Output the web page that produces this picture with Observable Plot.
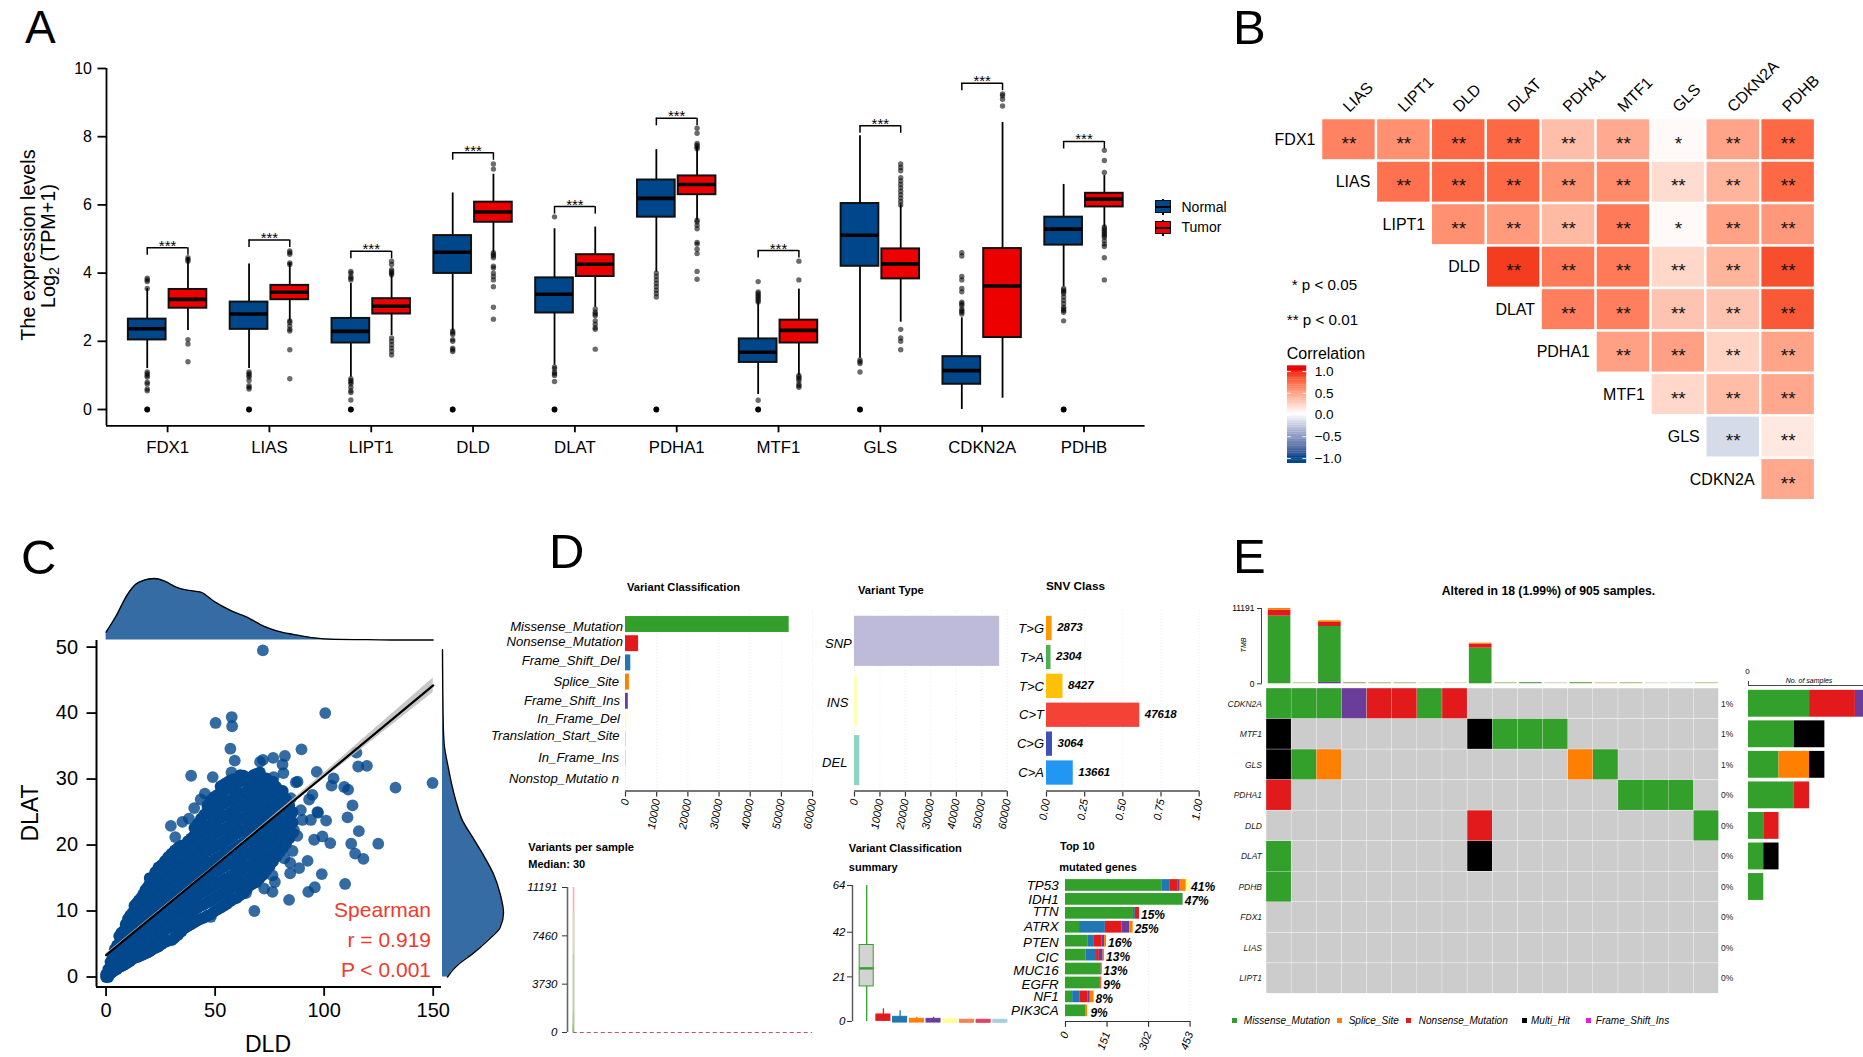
<!DOCTYPE html>
<html>
<head>
<meta charset="utf-8">
<script src="https://cdn.jsdelivr.net/npm/d3@7"></script>
<script src="https://cdn.jsdelivr.net/npm/@observablehq/plot@0.6"></script>
<style>
html,body{margin:0;padding:0;background:#fff;}
#root{position:relative;width:1863px;height:1057px;overflow:hidden;background:#fff;font-family:"Liberation Sans",Arial,sans-serif;color:#000;}
#root svg{position:absolute;overflow:visible;background:transparent;}
.t{position:absolute;white-space:nowrap;line-height:1;}
.t sub{font-size:.72em;vertical-align:-0.28em;line-height:0;}
.b{position:absolute;box-sizing:border-box;}
</style>
</head>
<body>
<div id="root"></div>
<script>
/* ---------- Panel A values ---------- */
const genes = ["FDX1","LIAS","LIPT1","DLD","DLAT","PDHA1","MTF1","GLS","CDKN2A","PDHB"];
// low whisker, q1, median, q3, high whisker
const normalBox = [[1.2,2.04,2.37,2.65,3.55],[1.2,2.35,2.8,3.15,4.27],[0.95,1.95,2.29,2.67,3.7],[2.3,3.99,4.61,5.1,6.35],[1.3,2.83,3.38,3.86,5.3],[4.03,5.64,6.19,6.73,7.62],[0.44,1.38,1.68,2.07,3.15],[1.5,4.2,5.11,6.04,8.03],[0,0.74,1.14,1.55,2.69],[3.6,4.82,5.29,5.64,6.6]];
const tumorBox = [[2.32,2.97,3.23,3.52,4.45],[2.6,3.22,3.44,3.64,4.3],[2.17,2.8,3.03,3.25,3.98],[4.6,5.49,5.79,6.08,6.9],[3,3.9,4.26,4.54,5.35],[5.55,6.3,6.6,6.85,7.7],[1,1.95,2.32,2.62,3.53],[2.56,3.83,4.27,4.71,6],[0.33,2.11,3.62,4.72,8.42],[5.35,5.94,6.17,6.34,6.86]];
const normalOut = [
 [3.85,3.8,3.75,3.55,1.1,1.05,1,0.95,0.8,0.75,0.6,0.55,0],
 [1.1,1.05,1,0.95,0.85,0.7,0.65,0.6,0],
 [4.05,4,3.9,3.85,3.8,0.9,0.85,0.8,0.75,0.65,0.55,0.5,0.28,0],
 [2.3,2.25,2.2,2.05,2,1.8,1.75,1.7,0],
 [5.65,1.25,1.2,1.1,1.05,1,0.82,0],
 [4,3.9,3.8,3.7,3.6,3.5,3.4,3.3,0],
 [3.75,3.45,3.4,3.35,3.3,3.25,3.2,3.15,0.27,0],
 [1.45,1.4,1.35,1.1,0],
 [4.6,4.5,3.9,3.8,3.55,3.45,3.15,3.1,3.05,2.95,2.9,2.85,2.8],
 [3.55,3.5,3.45,3.4,3.3,3.2,3.1,3,2.95,2.9,2.85,2.6,0]];
const tumorOut = [
 [4.45,4.4,4.35,2.05,1.92,1.4],
 [4.65,4.6,4.55,4.3,4.25,2.6,2.55,2.45,2.35,2.3,1.75,0.9],
 [4.35,4.25,4.1,4.05,4,3.95,2.1,2,1.9,1.8,1.7,1.6],
 [7.2,7.05,4.6,4.55,4.5,4.45,4.2,4.15,4,3.9,3.8,3.6,3,2.65],
 [2.95,2.85,2.8,2.75,2.6,2.5,2.4,2.35,1.77],
 [8.25,8.1,7.8,7.75,7.7,7.65,5.55,5.5,5.4,5.3,4.9,4.85,4.7,4.57,4.05,3.82],
 [4.35,3.8,1,0.95,0.9,0.85,0.75,0.7,0.65],
 [7.2,7.1,7,6.8,6.7,6.6,6.5,6.4,6.3,6.2,6.1,6,2.35,2.1,2,1.75],
 [9.25,9.2,9.1,8.9],
 [7.6,7.3,6.95,5.35,5.3,5.25,5.2,5.15,5.1,5.05,4.95,4.85,4.78,4.45,3.8]];
const bracketTop = [4.74,4.97,4.64,7.53,5.95,8.54,4.66,8.32,9.57,7.86];

/* ---------- Panel B values ---------- */
const corrRows = ["FDX1","LIAS","LIPT1","DLD","DLAT","PDHA1","MTF1","GLS","CDKN2A"];
const corrCols = ["LIAS","LIPT1","DLD","DLAT","PDHA1","MTF1","GLS","CDKN2A","PDHB"];
const corrValues = [
 [.62,.56,.74,.74,.33,.43,.03,.46,.74],
 [.7,.74,.74,.54,.58,.18,.38,.74],
 [.56,.51,.35,.66,.03,.47,.52],
 [.9,.66,.66,.2,.38,.84],
 [.64,.64,.3,.3,.8],
 [.48,.48,.22,.46],
 [.2,.34,.44],
 [-.18,.12],
 [.44]];
const corrStars = [
 ["**","**","**","**","**","**","*","**","**"],
 ["**","**","**","**","**","**","**","**"],
 ["**","**","**","**","*","**","**"],
 ["**","**","**","**","**","**"],
 ["**","**","**","**","**"],
 ["**","**","**","**"],
 ["**","**","**"],
 ["**","**"],
 ["**"]];

/* ---------- Panel C values ---------- */
const scatterColumns = [
 [0,[0,0.4]],[1,[0,0.6,1.2]],[3,[0.8,1.8,3]],[5,[1.2,2.4,3.6,4.8]],[7,[1.6,2.9,4.3,5.6,6.7]],
 [9,[2,3.3,4.6,6,7.4,8]],[11,[2.4,3.9,5.2,6.6,8,9.3]],[13,[2.9,4.2,5.7,7.1,8.5,9.9,10.8]],
 [15,[3.1,4.7,6.2,7.6,9.2,10.6,11.6]],[17,[3.4,5,6.7,8.2,9.8,11.3,12.5]],[19,[3.7,5.4,7.1,8.9,10.5,12.1,13.6]],
 [21,[4.1,5.8,7.6,9.3,11,12.8,14.6]],[24,[4.6,6.5,8.3,10.2,12,13.8,15.5,16.6]],[27,[5.3,7.1,9,10.9,12.7,14.6,16.4,17.6]],
 [30,[5.6,7.7,9.6,11.5,13.4,15.3,17.1,18.7]],[33,[6.4,8.3,10.2,12.1,14,15.9,17.8,19.6]],[36,[7.4,9.2,11,13,14.9,16.7,18.6,20]],
 [39,[8,9.9,11.8,13.7,15.6,17.5,19.4,21]],[42,[8.6,10.5,12.4,14.3,16.2,18.1,20,22,23.2]],[45,[9,11,13,15,16.9,18.8,20.7,22.6,24.6]],
 [48,[9.5,11.6,13.6,15.5,17.4,19.4,21.3,23.2,25.1,26.8]],[51,[10.2,12.2,14.2,16.1,18,20,21.9,23.8,25.7,27.6]],
 [54,[10.8,12.8,14.7,16.7,18.6,20.5,22.4,24.4,26.3,28.2,29.2]],[57,[11.5,13.4,15.3,17.2,19.1,21.1,23,24.9,26.8,28.7,29.8]],
 [60,[12,14,15.9,17.8,19.7,21.7,23.6,25.5,27.4,29.3]],[63,[12.7,14.6,16.5,18.4,20.3,22.2,24.1,26,27.9,29.8,30.5]],
 [66,[13.9,15.1,17,18.9,20.9,22.8,24.7,26.6,28.5,30.1]],[69,[14.4,16,17.8,19.6,21.5,23.4,25.3,27.2,29.1,30.8]],
 [72,[15.5,17.2,18.9,20.6,22.3,24.2,26.1,28,29.9]],[75,[16.8,18.4,20,21.8,23.6,25.5,27.3,29.1]],
 [78,[18.2,20.1,21.9,23.7,25.6,27.4,28.8]],[81,[19.5,21.3,23,24.8,26.6,28.2]],[84,[21,22.6,24.3,26]],
 [2,[0.5,1.4,2.3]],[4,[1,2,3.1,4.2]],[6,[1.5,2.7,3.9,5.1,6.2]],[8,[1.8,3.1,4.4,5.7,7]],[10,[2.2,3.6,5,6.4,7.8,8.8]],
 [12,[2.7,4,5.5,6.9,8.3,9.7]],[14,[3,4.5,6,7.4,8.9,10.4,11.2]],[16,[3.3,4.9,6.5,8,9.6,11.1,12]],[18,[3.6,5.2,6.9,8.6,10.2,11.8,13.2]],
 [20,[3.9,5.6,7.4,9.1,10.8,12.5,14.2,15]],[22.5,[4.4,6.2,8,9.8,11.5,13.3,15,15.9]],[25.5,[5,6.8,8.7,10.5,12.4,14.2,16,17]],
 [28.5,[5.5,7.4,9.3,11.2,13.1,15,16.8,18.2]],[31.5,[6,8,9.9,11.8,13.7,15.6,17.5,19.2]],[34.5,[6.9,8.8,10.6,12.5,14.4,16.3,18.2,19.9]],
 [37.5,[7.7,9.6,11.4,13.3,15.2,17.1,19,20.6]],[40.5,[8.3,10.2,12.1,14,15.9,17.8,19.7,21.5,22.6]],[43.5,[8.8,10.8,12.7,14.6,16.5,18.4,20.4,22.3,24]],
 [46.5,[9.3,11.3,13.3,15.2,17.2,19.1,21,22.9,24.8,26]],[49.5,[9.9,11.9,13.9,15.8,17.7,19.7,21.6,23.5,25.4,27.3]],
 [52.5,[10.5,12.5,14.4,16.4,18.3,20.2,22.2,24.1,26,27.9,28.9]],[55.5,[11.1,13.1,15,17,18.9,20.8,22.7,24.6,26.6,28.5,29.5]],
 [58.5,[11.8,13.7,15.6,17.5,19.4,21.4,23.3,25.2,27.1,29,30]],[61.5,[12.4,14.3,16.2,18.1,20,22,23.9,25.8,27.7,29.6,30.6]],
 [64.5,[13.3,14.9,16.8,18.7,20.6,22.5,24.4,26.3,28.2,30.2]],[67.5,[14.2,15.6,17.4,19.3,21.2,23.1,25,26.9,28.8,30.6]],
 [70.5,[15,16.6,18.3,20.1,21.9,23.8,25.7,27.6,29.5,31]],[73.5,[16.2,17.8,19.5,21.2,23,24.9,26.7,28.5,30.1]],
 [76.5,[17.5,19.2,21,22.8,24.6,26.4,28.2,29.6]],[79.5,[18.9,20.7,22.5,24.3,26.1,27.8]],[82.5,[20.2,22,23.7,25.4,27]],[85.5,[21.8,23.4,25]]];
const scatterSparse = [[71.9,49.5],[57.6,39.4],[50.2,38.5],[57.8,38],[100.5,40],[57,34.6],[59,32.8],[89.6,34.5],[114.8,34],[115.6,31.9],[119.6,32],[96.6,31.1],[104.3,30.1],[103.4,29],[109.2,28.8],[111,28.4],[132.7,28.7],[149.7,29.4],[113,26],[110.7,24.2],[115.9,22.1],[124.8,20.2],[112.4,20.2],[102.8,20.3],[99.2,21.3],[95.4,20.8],[100.9,23.7],[96.9,25],[114.2,18.7],[118,17.9],[92.4,17.6],[98.9,15.6],[88.5,16.5],[109.6,14.1],[95.7,13.6],[92.7,12.9],[83.9,11.7],[68,10],[39,30.5],[48.9,30.3],[29.7,22.9],[31.7,21.2],[35,23.5],[38,24],[40.4,25.6],[43.4,26.9],[45.3,27.8],[46.5,25.6],[57.5,31],[70.6,32.6],[71.9,32.9],[76.6,33.2],[82,33.5],[80.9,32.2],[81.3,30.9],[76.8,30.3],[87.8,29.6],[87,29.5],[94.6,27.6],[93.1,26.9],[84.7,27.1],[89.3,25.3],[97.2,24.9],[90,23.8],[93.9,23.8],[86.2,22.2],[87.7,21.4],[84.7,24],[85.5,19.1],[81.7,18],[84.4,17.3],[84.4,15.7],[77.4,14.4],[76.3,15.4],[72.5,13.4],[76.3,12.9],[64.1,12.7],[48,9.1],[38,7.9],[30.9,5.8],[25.8,5.9]];
const fitX = [0,50,100,150];
const fitY = [3.3,16.9,30.5,44.2];
const fitHalf = [0.25,0.15,0.45,1.1];
const densTopX = [0,4.4,9.8,13.6,17.4,22,26.6,32.7,38.1,43.4,49.5,57.2,64.8,72.5,78.6,86.2,95.4,104.6,119.9,135.2,150];
const densTopD = [.128,.378,.739,.906,.972,1,.961,.85,.806,.778,.628,.478,.367,.222,.144,.089,.033,.011,.006,0,0];
const densRightY = [49.6,38.9,35.3,31.8,29.3,26.7,23.7,21.2,18.7,15.6,12.6,9.7,7.5,5.5,3.5,2,1,0];
const densRightD = [0,.011,.027,.093,.148,.219,.328,.492,.656,.836,.945,1,.945,.738,.492,.273,.164,.082];

/* ---------- Panel D values ---------- */
const classNames = ["Missense_Mutation","Nonsense_Mutation","Frame_Shift_Del","Splice_Site","Frame_Shift_Ins","In_Frame_Del","Translation_Start_Site","In_Frame_Ins","Nonstop_Mutatio n"];
const classCounts = [52500,4200,1700,1250,900,450,150,80,30];
const classColors = ["#33A02C","#E31A1C","#1F78B4","#FF7F00","#6A3D9A","#FFFF99","#FB9A99","#E0415F","#A6CEE3"];
const typeNames = ["SNP","INS","DEL"];
const typeCounts = [57000,1200,2100];
const typeColors = ["#BEBADA","#FFFFB3","#8DD3C7"];
const snvNames = ["T>G","T>A","T>C","C>T","C>G","C>A"];
const snvCounts = [2873,2304,8427,47618,3064,13661];
const snvColors = ["#FF9800","#4CAF50","#FFC107","#F44336","#3F51B5","#2196F3"];
const spikeEnd = [6,6,5,4,3,2];
const spikeValue = [11191,9200,6000,1500,600,250];
const spikeColor = ["#f7b0ac","#bfe8b9","#a8dca4","#94d490","#7cc878","#5cb658"];
// low whisker, q1, median, q3, high whisker per classification
const summaryBox = [[0,17,25,36,64],[0,0.8,2,3.3,6],[0,0,1,2.2,5],[0,0,0.5,1.25,2],[0,0,0.5,1.25,2],[0,0,0,1,2],[0,0,0,0.8,0.8],[0,0,0,0.8,0.8],[0,0,0,0.8,0.8]];
const summaryColors = ["#33A02C","#E31A1C","#1F78B4","#FF7F00","#6A3D9A","#FFFF99","#FF7F50","#E0415F","#A6CEE3"];
const top10Genes = ["TP53","IDH1","TTN","ATRX","PTEN","CIC","MUC16","EGFR","NF1","PIK3CA"];
const top10Pct = ["41%","47%","15%","25%","16%","13%","13%","9%","8%","9%"];
const topMissense = [350,427,247,51,81,74,130,125,26,75];
const topFsDel = [29,1,7,94,24,39,0,0,26,0];
const topNonsense = [31,0,15,60,27,10,3,5,29,0];
const topFsIns = [7,0,0,29,10,14,0,0,9,0];
const topSplice = [22,0,0,12,7,5,0,2,14,5];
const topInFrame = [12,0,0,0,0,0,0,0,0,5];

/* ---------- Panel E values ---------- */
const oncoGenes = ["CDKN2A","MTF1","GLS","PDHA1","DLD","DLAT","PDHB","FDX1","LIAS","LIPT1"];
const oncoPct = ["1%","1%","1%","0%","0%","0%","0%","0%","0%","0%"];
const oncoRows = [
 "MMMFNNMN..........",
 "H.......HMMM......",
 "HMS.........SM....",
 "N.............MMM.",
 "........N........M",
 "M.......H.........",
 "M.................",
 "..................",
 "..................",
 ".................."];
const oncoColor = {M:"#33A02C",N:"#E31A1C",S:"#FF7F00",H:"#000000",F:"#6A3D9A"};
const tmbMissense = [10052,0,8317,0,0,0,0,0,5298,0,0,0,0,0,0,0,0,0];
const tmbNonsense = [891,0,594,0,0,0,0,0,594,0,0,0,0,0,0,0,0,0];
const tmbSplice = [248,0,248,0,0,0,0,0,150,0,0,0,0,0,0,0,0,0];
const tmbFrameIns = [0,0,200,0,0,0,0,0,0,0,0,0,0,0,0,0,0,0];
const tmbLow = [0,200,0,200,200,200,180,180,0,200,200,180,200,180,200,180,180,200];
const tmbLowColor = ["","#c9d2ad","","#b9a98c","#c2c2a0","#cfc09f","#dfe5cf","#dde2cc","","#b5cc9e","#6f9e6f","#cfdabb","#7fae5a","#d8cba8","#bcc290","#dde2cc","#d6e8d6","#c5cf9e"];
const rightMissense = [4,3,2,3,1,1,1,0,0,0];
const rightNonsense = [3,0,0,1,1,0,0,0,0,0];
const rightSplice = [0,0,2,0,0,0,0,0,0,0];
const rightMulti = [0,2,1,0,0,1,0,0,0,0];
const rightFrameIns = [1,0,0,0,0,0,0,0,0,0];

/* ---------- Layout helpers ---------- */
const root = document.getElementById("root");
const FONT = '"Liberation Sans",Arial,sans-serif';
function chart(x0,y0,x1,y1,opts,m){
  m = Object.assign({l:60,r:60,t:20,b:60},m||{});
  const o = Object.assign({},opts);
  o.x = Object.assign({},o.x||{}); o.y = Object.assign({},o.y||{});
  if (o.xAbs){ o.x.range = o.xAbs.map(v=>v-x0+m.l); delete o.xAbs; }
  if (o.yAbs){ o.y.range = o.yAbs.map(v=>v-y0+m.t); delete o.yAbs; }
  const p = Plot.plot(Object.assign({
    width:x1-x0+m.l+m.r, height:y1-y0+m.t+m.b,
    marginLeft:m.l,marginRight:m.r,marginTop:m.t,marginBottom:m.b,
    style:{fontFamily:FONT,background:"transparent",overflow:"visible",color:"#000"}
  },o));
  p.style.left=(x0-m.l)+"px"; p.style.top=(y0-m.t)+"px";
  root.appendChild(p);
  return p;
}
function txt(s,x,y,o){
  o=o||{};
  const d=document.createElement("div"); d.className="t"; d.innerHTML=s;
  const ax={start:"0",middle:"-50%",end:"-100%"}[o.anchor||"start"];
  d.style.left=x+"px"; d.style.top=y+"px";
  d.style.fontSize=(o.size||14)+"px";
  if(o.bold)d.style.fontWeight="bold";
  if(o.italic)d.style.fontStyle="italic";
  if(o.color)d.style.color=o.color;
  d.style.transform=`translate(${ax},-50%)`+(o.rotate?` rotate(${o.rotate}deg)`:"");
  root.appendChild(d); return d;
}
function box(x,y,w,h,c,extra){
  const d=document.createElement("div"); d.className="b";
  d.style.cssText=`left:${x}px;top:${y}px;width:${w}px;height:${h}px;background:${c};`+(extra||"");
  root.appendChild(d); return d;
}

/* ---------- Panel letters ---------- */
txt("A",25,27,{size:46}); txt("B",1233,27,{size:49}); txt("C",21,557,{size:49}); txt("D",549,551,{size:49}); txt("E",1233,556,{size:49});

/* ---------- Panel A ---------- */
const BW=.185;
const boxTable=(arr,off)=>arr.map((b,i)=>({x:i+off,lo:b[0],q1:b[1],med:b[2],q3:b[3],hi:b[4]}));
const aN=boxTable(normalBox,-.2), aT=boxTable(tumorBox,.2);
const outTable=(arr,off)=>arr.flatMap((vs,i)=>vs.map(v=>({x:i+off,y:v})));
const aOut=[...outTable(normalOut,-.2),...outTable(tumorOut,.2)];
const boxMarks=(tbl,col)=>[
  Plot.ruleX(tbl,{x:"x",y1:"lo",y2:"hi",stroke:"#000",strokeWidth:1.8}),
  Plot.rect(tbl,{x1:d=>d.x-BW,x2:d=>d.x+BW,y1:"q1",y2:"q3",fill:col,stroke:"#111",strokeWidth:2}),
  Plot.ruleY(tbl,{y:"med",x1:d=>d.x-BW,x2:d=>d.x+BW,stroke:"#000",strokeWidth:3.6})
];
chart(106.4,68,1145,425.3,{
  x:{domain:[-.6,9.6]}, y:{domain:[-.478,10]},
  marks:[
    Plot.dot(aOut,{x:"x",y:"y",r:2.7,fill:"#000",fillOpacity:.58}),
    Plot.dot(aOut.filter(d=>d.y===0),{x:"x",y:"y",r:2.9,fill:"#000"}),
    ...boxMarks(aN,"#00468B"),...boxMarks(aT,"#ED0000"),
    Plot.ruleY(bracketTop,{y:d=>d,x1:(d,i)=>i-.2,x2:(d,i)=>i+.2,strokeWidth:1.5}),
    Plot.ruleX(bracketTop,{x:(d,i)=>i-.2,y1:d=>d,y2:d=>d-.22,strokeWidth:1.5}),
    Plot.ruleX(bracketTop,{x:(d,i)=>i+.2,y1:d=>d,y2:d=>d-.22,strokeWidth:1.5}),
    Plot.text(bracketTop,{x:(d,i)=>i,y:d=>d,text:()=>"***",fontSize:15,lineAnchor:"bottom",dy:3}),
    Plot.ruleX([-.6],{y1:-.478,y2:10,strokeWidth:1.8}),
    Plot.ruleY([-.478],{x1:-.6,x2:9.6,strokeWidth:1.8}),
    Plot.axisY({ticks:[0,2,4,6,8,10],tickSize:8.5,tickPadding:6,fontSize:16,label:null,strokeWidth:1.8}),
    Plot.axisX({ticks:d3.range(10),tickFormat:i=>genes[i],tickSize:7,tickPadding:8,fontSize:16.8,label:null,strokeWidth:1.8})
  ]
});
txt("The expression levels",29,245,{size:19.8,anchor:"middle",rotate:-90});
txt("Log<sub>2</sub> (TPM+1)",49,246,{size:19.8,anchor:"middle",rotate:-90});
[["Normal","#00468B",200,207],["Tumor","#ED0000",221,227]].forEach(([n,c,y,ty])=>{
  box(1162,y-1.5,1.6,16,"#000");
  box(1154.6,y,16.4,13,c,"border:1.6px solid #111;");
  box(1154.6,y+5.5,16.4,2,"#000");
  txt(n,1181.5,ty,{size:14});
});

/* ---------- Panel B ---------- */
const corrTable = corrValues.flatMap((r,i)=>r.map((v,j)=>({row:corrRows[i],col:corrCols[i+j],r:v,s:corrStars[i][j]})));
const corrColor = {type:"linear",domain:[-1,0,1],range:["#00468B","#ffffff","#ED0000"],interpolate:"lab",clamp:true};
chart(1321.35,118.25,1815.45,500.55,{
  x:{type:"band",domain:corrCols,paddingInner:.045,paddingOuter:.0225,round:false},
  y:{type:"band",domain:corrRows,axis:null,paddingInner:.06,paddingOuter:.03,round:false},
  color:corrColor,
  marks:[
    Plot.cell(corrTable,{x:"col",y:"row",fill:"r"}),
    Plot.text(corrTable,{x:"col",y:"row",text:"s",fontSize:19,dy:4,fill:"#111"}),
    Plot.text(corrRows,{x:(d,i)=>corrCols[i],y:d=>d,text:d=>d,textAnchor:"end",dx:-33.5,fontSize:16}),
    Plot.axisX({anchor:"top",tickRotate:-45,tickSize:0,tickPadding:9,dx:-3,fontSize:16,label:null})
  ]
});
txt("* p &lt; 0.05",1291.7,285,{size:15.2});
txt("** p &lt; 0.01",1286.8,320,{size:15.2});
txt("Correlation",1286.8,354,{size:16});
chart(1286.8,366,1306,463,{
  x:{domain:[0,1],axis:null}, y:{domain:[-1.115,1.115]}, color:corrColor,
  marks:[
    Plot.rect(d3.range(-1.115,1.115,.04),{x1:0,x2:1,y1:d=>d,y2:d=>d+.045,fill:d=>d}),
    Plot.ruleY([-1,-.5,0,.5,1],{x1:0,x2:.2,stroke:"#fff",strokeWidth:.9}),
    Plot.ruleY([-1,-.5,0,.5,1],{x1:.8,x2:1,stroke:"#fff",strokeWidth:.9}),
    Plot.axisY({anchor:"right",ticks:[-1,-.5,0,.5,1],tickFormat:d3.format(".1f"),tickSize:0,tickPadding:8,fontSize:13.6,label:null})
  ]
},{l:10});

/* ---------- Panel C ---------- */
const scatterDense=scatterColumns.flatMap(([x,ys])=>ys.map(y=>({x,y})));
const scatterLoose=scatterSparse.map(([x,y])=>({x,y}));
const fit=fitX.map((x,i)=>({x,y:fitY[i],lo:fitY[i]-fitHalf[i],hi:fitY[i]+fitHalf[i]}));
const blue="#356ca3";
chart(95.7,640,440.7,986.4,{
  x:{domain:[-4.4,153.8]}, y:{domain:[-1.5,51]},
  marks:[
    Plot.dot(scatterLoose,{x:"x",y:"y",r:5.9,fill:"#00468B",fillOpacity:.8}),
    Plot.dot(scatterDense,{x:"x",y:"y",r:5.9,fill:"#03478c"}),
    Plot.areaY(fit,{x:"x",y1:"lo",y2:"hi",fill:"#bdbdbd",fillOpacity:.85}),
    Plot.line(fit,{x:"x",y:"y",stroke:"#000",strokeWidth:2.2}),
    Plot.ruleX([-4.4],{y1:-1.5,y2:51,strokeWidth:2}),
    Plot.ruleY([-1.5],{x1:-4.4,x2:153.8,strokeWidth:2}),
    Plot.axisY({ticks:[0,10,20,30,40,50],tickSize:9.5,tickPadding:9,fontSize:20,label:null,strokeWidth:1.8}),
    Plot.axisX({ticks:[0,50,100,150],tickSize:9.5,tickPadding:6,fontSize:20,label:null,strokeWidth:1.8})
  ]
});
const dTop=densTopX.map((x,i)=>({x,d:densTopD[i]}));
chart(95.7,577.5,440.7,639,{
  x:{domain:[-4.4,153.8],axis:null},y:{domain:[0,1],axis:null},
  marks:[
    Plot.areaY(dTop,{x:"x",y:"d",fill:blue,curve:"monotone-x"}),
    Plot.lineY(dTop,{x:"x",y:"d",stroke:"#000",strokeWidth:1.3,curve:"monotone-x"})
  ]
},{b:10,t:10});
const dRight=densRightY.map((y,i)=>({y,d:densRightD[i]}));
chart(441.7,640,502.7,986.4,{
  y:{domain:[-1.5,51],axis:null},x:{domain:[0,1],axis:null},
  marks:[
    Plot.areaX(dRight,{y:"y",x:"d",fill:blue,curve:"monotone-y"}),
    Plot.lineX(dRight,{y:"y",x:"d",stroke:"#000",strokeWidth:1.4,curve:"monotone-y"})
  ]
},{l:10,r:10});
txt("DLD",268,1044,{size:23,anchor:"middle"});
txt("DLAT",30,813,{size:23,anchor:"middle",rotate:-90});
const red="#ef3a2d";
txt("Spearman",431,909,{size:21,anchor:"end",color:red});
txt("r = 0.919",431,939,{size:21,anchor:"end",color:red});
txt("P &lt; 0.001",431,969,{size:21,anchor:"end",color:red});

/* ---------- Panel D ---------- */
const grid=(ticks)=>Plot.ruleX(ticks,{stroke:"#e9e9e9",strokeDasharray:"1,2",strokeWidth:.8});
const itAxis=(ticks,fmt)=>Plot.axisX({ticks,tickFormat:fmt,tickRotate:-80,tickSize:5.6,tickPadding:2,fontSize:11,fontStyle:"italic",label:null,stroke:"#333",strokeWidth:1.2});
const classTable=classNames.map((n,i)=>({n,v:classCounts[i],c:classColors[i]}));
const k60=[0,10000,20000,30000,40000,50000,60000];
chart(625.4,610,812.5,791,{
  x:{domain:[0,60000]},
  y:{type:"band",domain:classNames,axis:null,paddingInner:.17,paddingOuter:.085,round:false},
  yAbs:[614.4,787.2], color:{type:"identity"},
  marks:[grid(k60),
    Plot.barX(classTable,{x:"v",y:"n",fill:"c"}),
    itAxis(k60,d=>String(d))
  ]
});
box(625.4,790.3,187,1.4,"#777");
const classLabelY=[626.7,641.7,661.3,682.3,700.7,718.7,735.7,758.3,779.3];
const classLabelR=[623,623,620,619,620,620,619.6,619,619];
classNames.forEach((n,i)=>txt(n,classLabelR[i],classLabelY[i],{size:13.1,italic:true,anchor:"end"}));
txt("Variant Classification",626.9,588.3,{size:11.2,bold:true});

const typeTable=typeNames.map((n,i)=>({n,v:typeCounts[i],c:typeColors[i]}));
chart(854.2,610,1007,791,{
  x:{domain:[0,60000]},
  y:{type:"band",domain:typeNames,axis:null,paddingInner:.16,paddingOuter:.08,round:false},
  yAbs:[611,790], color:{type:"identity"},
  marks:[grid(k60),Plot.barX(typeTable,{x:"v",y:"n",fill:"c"}),itAxis(k60,d=>String(d))]
});
box(854.2,790.3,153,1.4,"#777");
const typeLabelY=[643,702.3,762.3], typeLabelR=[851.8,848.4,847.4];
typeNames.forEach((n,i)=>txt(n,typeLabelR[i],typeLabelY[i],{size:13,italic:true,anchor:"end"}));
txt("Variant Type",858,591.3,{size:11.2,bold:true});

const snvSum=d3.sum(snvCounts);
const snvTable=snvNames.map((n,i)=>({n,count:String(snvCounts[i]),v:snvCounts[i]/snvSum,c:snvColors[i]}));
chart(1046.2,610,1198.9,791,{
  x:{domain:[0,1]},
  y:{type:"band",domain:snvNames,paddingInner:.16,paddingOuter:.08,round:false},
  yAbs:[613.6,787], color:{type:"identity"},
  marks:[grid([0,.25,.5,.75,1]),
    Plot.barX(snvTable,{x:"v",y:"n",fill:"c"}),
    Plot.text(snvTable,{x:"v",y:"n",text:"count",dx:5,dy:-1,textAnchor:"start",fontSize:11.5,fontWeight:"bold",fontStyle:"italic"}),
    Plot.axisY({tickSize:0,tickPadding:2.5,fontSize:13,fontStyle:"italic",label:null}),
    itAxis([0,.25,.5,.75,1],d3.format(".2f"))
  ]
});
box(1046.2,790.3,153,1.4,"#777");
txt("SNV Class",1046,587.3,{size:11.8,bold:true});

txt("Variants per sample",528.3,848.3,{size:11.2,bold:true});
txt("Median: 30",528.3,864.3,{size:11,bold:true});
chart(567.3,887.3,812.4,1032.3,{
  x:{domain:[-21.8,905],axis:null}, y:{domain:[0,11191]},
  marks:[
    Plot.rect(spikeValue,{x1:0,x2:(d,i)=>spikeEnd[i],y1:0,y2:d=>d,fill:(d,i)=>spikeColor[i]}),
    Plot.ruleY([0],{x1:0,x2:905,stroke:"#c8506c",strokeWidth:1.2,strokeDasharray:"4,3"}),
    Plot.ruleX([-21.8],{y1:0,y2:11191,stroke:"#666",strokeWidth:1.6}),
    Plot.axisY({ticks:[0,3730,7460,11191],tickFormat:d=>String(d),tickSize:5,tickPadding:5,fontSize:11.5,fontStyle:"italic",label:null,stroke:"#333"})
  ],
  color:{type:"identity"}
});

txt("Variant Classification",848.8,849.3,{size:11.2,bold:true});
txt("summary",848.8,866.7,{size:11,bold:true});
const sumTable=summaryBox.map((b,i)=>({x:i,lo:b[0],q1:b[1],med:b[2],q3:b[3],hi:b[4],c:summaryColors[i],f:i===0?"#d3d3d3":summaryColors[i]}));
chart(852,885,1008.2,1021,{
  x:{domain:[-.85,8.5],axis:null}, y:{domain:[0,64]}, color:{type:"identity"},
  marks:[
    Plot.ruleX(sumTable,{x:"x",y1:"lo",y2:"hi",stroke:"c",strokeWidth:1.3}),
    Plot.rect(sumTable,{x1:d=>d.x-.42,x2:d=>d.x+.42,y1:d=>d.q1-.5,y2:"q3",fill:"f",stroke:"c",strokeWidth:1}),
    Plot.ruleY(sumTable,{y:"med",x1:d=>d.x-.42,x2:d=>d.x+.42,stroke:"c",strokeWidth:2.4}),
    Plot.ruleX([-.85],{y1:0,y2:64,stroke:"#555",strokeWidth:1.4}),
    Plot.axisY({ticks:[0,21,42,64],tickSize:5,tickPadding:2,fontSize:11.5,fontStyle:"italic",label:null,stroke:"#333"})
  ]
});

txt("Top 10",1060,845.7,{size:11,bold:true});
txt("mutated genes",1059.2,867.3,{size:11,bold:true});
const topColors=["#33A02C","#1F78B4","#E31A1C","#6A3D9A","#FF7F00","#FFFF99"];
const topSeries=[topMissense,topFsDel,topNonsense,topFsIns,topSplice,topInFrame];
const topTable=topSeries.flatMap((s,k)=>s.map((v,i)=>({g:top10Genes[i],v,k,c:topColors[k]})));
const topTotals=top10Genes.map((g,i)=>({g,t:d3.sum(topSeries,s=>s[i]),p:top10Pct[i]}));
chart(1065.4,878.2,1190,1021.3,{
  x:{domain:[0,453]},
  y:{type:"band",domain:top10Genes,axis:null,paddingInner:.16,paddingOuter:.08,round:false},
  yAbs:[878.2,1017.5], color:{type:"identity"},
  marks:[
    grid([0,151,302,453]),
    Plot.barX(topTable,{x:"v",y:"g",fill:"c",z:"k"}),
    Plot.text(topTotals,{x:"t",y:"g",text:"p",textAnchor:"start",dx:1.5,dy:2,fontSize:12,fontWeight:"bold",fontStyle:"italic"}),
    Plot.axisX({ticks:[0,151,302,453],tickRotate:-70,tickSize:5.7,tickPadding:5,fontSize:11,fontStyle:"italic",label:null,stroke:"#333",strokeWidth:1.2})
  ]
});
box(1065.4,1020.6,125,1.4,"#333");
const topLabelY=[886,900,912.3,926.7,943.3,958,971,985,996.7,1011.3];
top10Genes.forEach((g,i)=>txt(g,1058.7,topLabelY[i],{size:13.4,italic:true,anchor:"end"}));

/* ---------- Panel E ---------- */
txt("Altered in 18 (1.99%) of 905 samples.",1548.5,591,{size:12.2,bold:true,anchor:"middle"});
const cols18=d3.range(1,19);
const tmbTable=[[tmbFrameIns,"#6A3D9A"],[tmbMissense,"#33A02C"],[tmbNonsense,"#E31A1C"],[tmbSplice,"#FF7F00"]]
  .flatMap(([s,c])=>s.map((v,i)=>({s:i+1,v,c})))
  .concat(tmbLow.map((v,i)=>({s:i+1,v,c:tmbLowColor[i]||"#ccc"})));
chart(1261.8,607.7,1718.8,683,{
  x:{type:"band",domain:cols18,axis:null,paddingInner:.1,paddingOuter:.05,round:false},
  y:{domain:[0,11191]}, xAbs:[1266.3,1718.8], color:{type:"identity"},
  marks:[
    Plot.barY(tmbTable.filter(d=>d.v>0),{x:"s",y:"v",fill:"c",z:"c"}),
    Plot.axisY({ticks:[0,11191],tickFormat:d=>String(d),tickSize:5,tickPadding:3,fontSize:8.5,label:null,stroke:"#333"})
  ]
});
box(1261.2,607.7,1.2,75.5,"#444");
txt("TMB",1242.5,645,{size:7,italic:true,anchor:"middle",rotate:-90});
const oncoBg=oncoGenes.flatMap(g=>cols18.map(s=>({g,s})));
const oncoHits=oncoRows.flatMap((r,i)=>[...r].map((ch,j)=>({g:oncoGenes[i],s:j+1,ch})).filter(d=>d.ch!=="."));
chart(1266.3,688.4,1718.8,993.8,{
  x:{type:"band",domain:cols18,axis:null,paddingInner:.016,paddingOuter:.008,round:false},
  y:{type:"band",domain:oncoGenes,paddingInner:.016,paddingOuter:.008,round:false},
  color:{type:"identity"},
  marks:[
    Plot.cell(oncoBg,{x:"s",y:"g",fill:()=>"#CCCCCC"}),
    Plot.cell(oncoHits,{x:"s",y:"g",fill:d=>oncoColor[d.ch]}),
    Plot.text(oncoGenes,{x:()=>18,y:d=>d,text:(d,i)=>oncoPct[i],textAnchor:"start",dx:14.5,fontSize:8.5,fill:"#222"}),
    Plot.axisY({tickSize:0,tickPadding:4.5,fontSize:8.5,fontStyle:"italic",label:null,fill:"#222"})
  ]
});
const rightSeries=[[rightMissense,"#33A02C"],[rightSplice,"#FF7F00"],[rightNonsense,"#E31A1C"],[rightMulti,"#000000"],[rightFrameIns,"#6A3D9A"]];
const rightTable=rightSeries.flatMap(([s,c])=>s.map((v,i)=>({g:oncoGenes[i],v,c}))).filter(d=>d.v>0);
chart(1748,688.4,1870.2,993.8,{
  x:{domain:[0,8],axis:null},
  y:{type:"band",domain:oncoGenes,axis:null,paddingInner:.12,paddingOuter:.06,round:false},
  color:{type:"identity"},
  marks:[Plot.barX(rightTable,{x:"v",y:"g",fill:"c",z:"c"})]
},{r:10});
box(1747.5,685,116,1.2,"#444"); box(1747.5,681,1.2,5,"#444");
txt("0",1747.5,671.7,{size:8,anchor:"middle"});
txt("No. of samples",1809,679.7,{size:7,italic:true,anchor:"middle"});
const legendNames=["Missense_Mutation","Splice_Site","Nonsense_Mutation","Multi_Hit","Frame_Shift_Ins"];
const legendColors=["#33A02C","#FF7F00","#E31A1C","#000000","#E61AE6"];
const legendSq=[1234.3,1339.3,1408.9,1524,1588], legendTx=[1243.8,1348.7,1418.8,1531,1595.8];
legendNames.forEach((n,i)=>{box(legendSq[i]-2.5,1017.8,5,5,legendColors[i]);txt(n,legendTx[i],1020.7,{size:10,italic:true});});
</script>
</body>
</html>
